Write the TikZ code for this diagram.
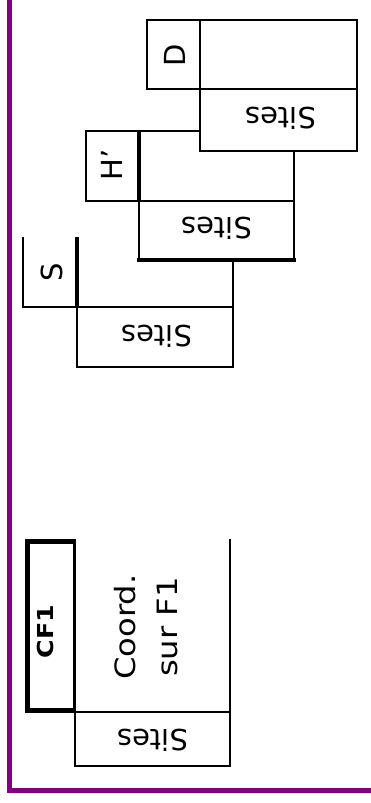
\documentclass[tikz,border=0pt]{standalone}
\usepackage{fontspec}
\setmainfont{DejaVu Sans}
\definecolor{framepurple}{RGB}{128,0,128}
\begin{document}
\begin{tikzpicture}[x=1pt,y=-1pt,
  ln/.style={draw=black,line width=2pt},
  thk/.style={draw=black,line width=4pt},
  cfb/.style={draw=black,line width=5pt},
  lbl/.style={font=\fontsize{29}{35}\selectfont,inner sep=0pt},
  frame/.style={draw=framepurple,line width=4.5pt}]
\useasboundingbox (0,0) rectangle (370,803);
% frame
\draw[frame] (9.5,-5) -- (9.5,790.5) -- (375,790.5);

% S group
\draw[ln] (23,237) -- (23,307) -- (77,307);
\draw[thk] (77,237) -- (77,307);
\draw[ln] (233,260) -- (233,307);
\draw[ln] (77,307) rectangle (233,367);
\node[lbl,rotate=90] (s) at (52,272) {S};
\node[lbl,rotate=180] (ssites) at (157,336) {Sites};

% H' group
\draw[ln] (200,131) -- (86,131) -- (86,201) -- (139,201);
\draw[thk] (139,131) -- (139,201);
\draw[ln] (139,201) -- (294,201);
\draw[ln] (294,151) -- (294,260);
\draw[ln] (139,201) -- (139,260);
\draw[thk] (137,260) -- (296,260);
\node[lbl,rotate=90] (h) at (112,165) {H'};
\node[lbl,rotate=180] (hsites) at (217,228) {Sites};

% D group
\draw[ln] (147,20) rectangle (200,89);
\draw[ln] (200,20) rectangle (357,89);
\draw[ln] (200,89) rectangle (357,151);
\node[lbl,rotate=90] (d) at (175,55) {D};
\node[lbl,rotate=180] (dsites) at (281,118) {Sites};

% CF1 group
\draw[cfb] (74.5,541.5) -- (27.5,541.5) -- (27.5,710.5) -- (74.5,710.5);
\draw[line width=2.5pt] (74.5,539) -- (74.5,712);
\draw[ln] (230,539) -- (230,712);
\draw[ln] (74.5,712) rectangle (230,766);
\node[inner sep=0pt,font=\bfseries\fontsize{22}{26}\selectfont,rotate=90,xscale=1.15] (cf) at (45,631.5) {CF1};
\node[inner sep=0pt,align=center,font=\fontsize{28}{42}\selectfont,rotate=90,xscale=1.15] (coord) at (146,627) {Coord.\\sur F1};
\node[lbl,rotate=180] (cfsites) at (153,740) {Sites};
\end{tikzpicture}
\end{document}
